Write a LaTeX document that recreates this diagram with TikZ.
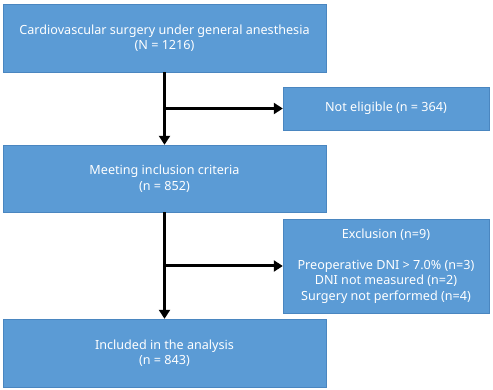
\documentclass[tikz,border=0pt]{standalone}
\usepackage{fontspec}
\setmainfont{Noto Sans}
\usetikzlibrary{arrows.meta}
\definecolor{boxblue}{HTML}{5B9BD5}
\definecolor{boxline}{HTML}{4A86C0}

\begin{document}
\begin{tikzpicture}[x=1pt, y=-1pt, every node/.style={draw=boxline, fill=boxblue, text=white, align=center, inner sep=0pt, font=\fontsize{12.6}{15.5}\selectfont}]
    \fill[white] (0,0) rectangle (493,390);
    \useasboundingbox (0,0) rectangle (493,390);
    \node[minimum width=323pt, minimum height=68pt] (total) at (164.5,38) {Cardiovascular surgery under general anesthesia\\(N = 1216)};
    \node[minimum width=206pt, minimum height=43pt] (noteligible) at (386,108.5) {Not eligible (n = 364)};
    \node[minimum width=323pt, minimum height=67pt] (meeting) at (164.5,178.5) {Meeting inclusion criteria\\(n = 852)};
    \node[minimum width=206pt, minimum height=94pt] (exclusion) at (386,266) {Exclusion (n=9)\\[15.5pt]Preoperative DNI > 7.0\% (n=3)\\DNI not measured (n=2)\\Surgery not performed (n=4)};
    \node[minimum width=323pt, minimum height=68pt] (included) at (164.5,353) {Included in the analysis\\(n = 843)};
    \coordinate (split1) at (165,108.5);
    \coordinate (split2) at (165,266);
    \draw[-{Triangle[length=9pt, width=11pt]}, line width=3pt] (total) -- (meeting);
    \draw[-{Triangle[length=9pt, width=11pt]}, line width=3pt] (split1) -- (noteligible);
    \draw[-{Triangle[length=9pt, width=11pt]}, line width=3pt] (meeting) -- (included);
    \draw[-{Triangle[length=9pt, width=11pt]}, line width=3pt] (split2) -- (exclusion);
\end{tikzpicture}
\end{document}
